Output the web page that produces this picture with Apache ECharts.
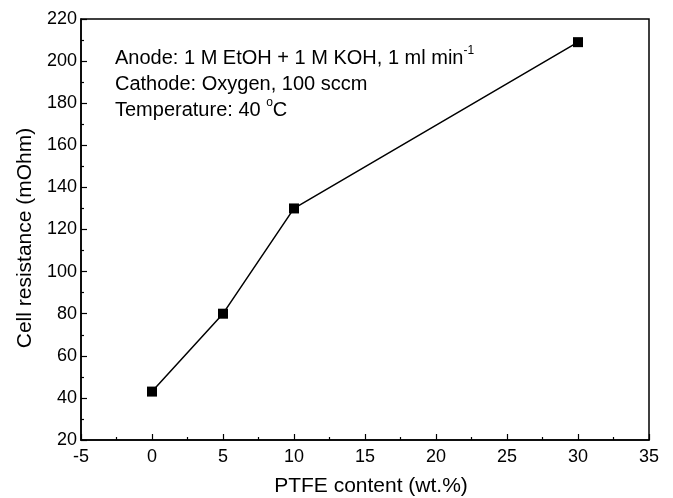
<!DOCTYPE html>
<html><head><meta charset="utf-8">
<script src="https://cdn.jsdelivr.net/npm/echarts@6/dist/echarts.min.js"></script>
<style>html,body{margin:0;padding:0;background:#fff}#c{width:673px;height:498px}</style>
</head><body><div id="c"></div>
<script>
const ptfe = [0, 5, 10, 30];
const resistance = [43, 80, 130, 209];
const xTicks = [-5, 0, 5, 10, 15, 20, 25, 30, 35];
const yTicks = [20, 40, 60, 80, 100, 120, 140, 160, 180, 200, 220];
const xTitle = 'PTFE content (wt.%)';
const yTitle = 'Cell resistance (mOhm)';

const chart = echarts.init(document.getElementById('c'));
const FONT = 'Liberation Sans, Arial, sans-serif';
const axisCommon = {
  axisLine: {show: true, onZero: false, lineStyle: {color: '#000', width: 1.5}},
  axisTick: {show: true, inside: true, length: 6, lineStyle: {color: '#000', width: 1.2}},
  minorTick: {show: true, splitNumber: 2, length: 3, lineStyle: {color: '#000', width: 1.2}},
  splitLine: {show: false},
  axisLabel: {color: '#000', fontSize: 18, fontFamily: FONT}
};
chart.setOption({
  backgroundColor: '#fff',
  animation: false,
  grid: {left: 81, right: 24, top: 19, bottom: 58, show: true, borderColor: '#000', borderWidth: 1.5},
  xAxis: Object.assign({}, axisCommon, {
    type: 'value', min: xTicks[0], max: xTicks[xTicks.length-1], interval: 5,
    axisLabel: Object.assign({}, axisCommon.axisLabel, {margin: 8})
  }),
  yAxis: Object.assign({}, axisCommon, {
    type: 'value', min: yTicks[0], max: yTicks[yTicks.length-1], interval: 20,
    axisLabel: Object.assign({}, axisCommon.axisLabel, {margin: 4})
  }),
  series: [{
    type: 'line',
    data: ptfe.map((x, i) => [x, resistance[i]]),
    symbol: 'rect', symbolSize: 10,
    itemStyle: {color: '#000'},
    lineStyle: {color: '#000', width: 1.5}
  }],
  graphic: [{
    type: 'text', left: 115, top: 45,
    style: {
      text: '{a|Anode: 1 M EtOH + 1 M KOH, 1 ml min}{s|-1}\n{a|Cathode: Oxygen, 100 sccm}\n{a|Temperature: 40 }{s|o}{a|C}',
      rich: {
        a: {fontSize: 20, fontFamily: FONT, fill: '#000', lineHeight: 26, verticalAlign: 'middle'},
        s: {fontSize: 12, fontFamily: FONT, fill: '#000', lineHeight: 14, verticalAlign: 'top'}
      }
    }
  }, {
    type: 'text', x: 371, y: 486,
    style: {text: xTitle, fontSize: 21, fontFamily: FONT, fill: '#000', align: 'center', verticalAlign: 'middle'}
  }, {
    type: 'text', x: 25, y: 238, rotation: Math.PI / 2,
    style: {text: yTitle, fontSize: 21, fontFamily: FONT, fill: '#000', align: 'center', verticalAlign: 'middle'}
  }]
});
</script></body></html>
